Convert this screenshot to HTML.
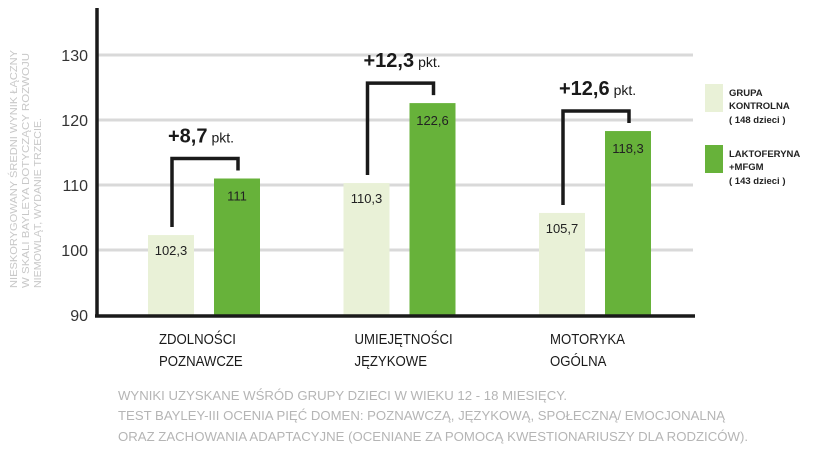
<!DOCTYPE html>
<html><head><meta charset="utf-8">
<style>
html,body{margin:0;padding:0;background:#fff;}
svg{display:block;font-family:"Liberation Sans",sans-serif;}
</style></head>
<body>
<svg id="chart" width="817" height="452" viewBox="0 0 817 452">
  <g id="grid"></g>
  <g id="yticks"></g>
  <g id="bars"></g>
  <g id="brackets"></g>
  <line x1="97" y1="8" x2="97" y2="317" stroke="#1a1a1a" stroke-width="3.5"/>
  <line x1="95" y1="316" x2="695" y2="316" stroke="#1a1a1a" stroke-width="3.5"/>
  <g id="xlabels"></g>
  <g fill="#c8c8c8" font-size="10.5" transform="translate(0,0)">
    <text transform="translate(17,288) rotate(-90)" textLength="238" lengthAdjust="spacingAndGlyphs">NIESKORYGOWANY ŚREDNI WYNIK ŁĄCZNY</text>
    <text transform="translate(29,288) rotate(-90)" textLength="235" lengthAdjust="spacingAndGlyphs">W SKALI BAYLEYA DOTYCZĄCY ROZWOJU</text>
    <text transform="translate(41,288) rotate(-90)" textLength="170" lengthAdjust="spacingAndGlyphs">NIEMOWLĄT, WYDANIE TRZECIE.</text>
  </g>
  <g>
    <rect x="705" y="84" width="18" height="28" fill="#e9f1d7"/>
    <g font-size="9.5" font-weight="bold" fill="#222">
      <text x="729" y="96">GRUPA</text>
      <text x="729" y="109">KONTROLNA</text>
      <text x="729" y="123">( 148 dzieci )</text>
    </g>
    <rect x="705" y="145" width="18" height="28" fill="#67b23a"/>
    <g font-size="9.5" font-weight="bold" fill="#222">
      <text x="729" y="157">LAKTOFERYNA</text>
      <text x="729" y="170">+MFGM</text>
      <text x="729" y="184">( 143 dzieci )</text>
    </g>
  </g>
  <g fill="#b5b5b5" font-size="12.5">
    <text x="118" y="400" textLength="449" lengthAdjust="spacingAndGlyphs">WYNIKI UZYSKANE WŚRÓD GRUPY DZIECI W WIEKU 12 - 18  MIESIĘCY.</text>
    <text x="118" y="420" textLength="607" lengthAdjust="spacingAndGlyphs">TEST BAYLEY-III OCENIA PIĘĆ DOMEN: POZNAWCZĄ, JĘZYKOWĄ, SPOŁECZNĄ/ EMOCJONALNĄ</text>
    <text x="118" y="441" textLength="630" lengthAdjust="spacingAndGlyphs">ORAZ ZACHOWANIA ADAPTACYJNE (OCENIANE ZA POMOCĄ KWESTIONARIUSZY DLA RODZICÓW).</text>
  </g>
</svg>
<script>
const categories = [["ZDOLNOŚCI","POZNAWCZE"],["UMIEJĘTNOŚCI","JĘZYKOWE"],["MOTORYKA","OGÓLNA"]];
const controlValues = [102.3, 110.3, 105.7];
const treatmentValues = [111, 122.6, 118.3];
const controlLabels = ["102,3","110,3","105,7"];
const treatmentLabels = ["111","122,6","118,3"];
const diffLabels = ["+8,7","+12,3","+12,6"];
const yTicks = [90,100,110,120,130];

const NS = "http://www.w3.org/2000/svg";
const y = v => 315 - (v - 90) * 6.5;
const groupX = i => 148 + i * 195.5;
function el(tag, attrs, parent, text){
  const e = document.createElementNS(NS, tag);
  for (const k in attrs) e.setAttribute(k, attrs[k]);
  if (text !== undefined) e.textContent = text;
  parent.appendChild(e);
  return e;
}
const grid = document.getElementById('grid');
const yt = document.getElementById('yticks');
yTicks.forEach(t => {
  if (t > 90) {
    const l = el('line', {x1:97, x2:693, y1:y(t), y2:y(t), stroke:'#d9d9d9', 'stroke-width':3}, grid);
    
    
  }
  const tx = el('text', {x:88, y:y(t)+6, 'text-anchor':'end', 'font-size':16, fill:'#333'}, yt, String(t));
  
  
});
const bars = document.getElementById('bars');
const br = document.getElementById('brackets');
const xl = document.getElementById('xlabels');
const W = 46;
categories.forEach((c, i) => {
  const x0 = groupX(i), x1 = x0 + 66;
  const yc = y(controlValues[i]), ytr = y(treatmentValues[i]);
  const r1 = el('rect', {x:x0, y:yc, width:W, height:315-yc, fill:'#e9f1d7'}, bars);
  
  
  const r2 = el('rect', {x:x1, y:ytr, width:W, height:315-ytr, fill:'#67b23a'}, bars);
  
  
  const t1 = el('text', {x:x0+W/2, y:yc+20, 'text-anchor':'middle', 'font-size':13, fill:'#222'}, bars, controlLabels[i]);
  
  
  const t2 = el('text', {x:x1+W/2, y:ytr+22, 'text-anchor':'middle', 'font-size':13, fill:'#222'}, bars, treatmentLabels[i]);
  
  
  const cx0 = x0 + W/2 + 1, cx1 = x1 + W/2 + 1;
  const hy = ytr - 20;
  const p = el('path', {d:`M${cx0} ${yc-8} V${hy} H${cx1} V${ytr-8}`, fill:'none', stroke:'#1a1a1a', 'stroke-width':3.5}, br);
  
  
  const lt = el('text', {x:cx0-4, y:hy-16, fill:'#1a1a1a'}, br);
  
  
  el('tspan', {'font-size':20, 'font-weight':'bold'}, lt, diffLabels[i]);
  el('tspan', {'font-size':14, dx:4}, lt, 'pkt.');
  const cl = el('g', {fill:'#1a1a1a', 'font-size':15}, xl);
  
  
  el('text', {x:x0+11, y:344, transform:`translate(${(x0+11)*0.12},0) scale(0.88,1)`}, cl, c[0]);
  el('text', {x:x0+11, y:366, transform:`translate(${(x0+11)*0.12},0) scale(0.88,1)`}, cl, c[1]);
});
</script>
</body></html>
